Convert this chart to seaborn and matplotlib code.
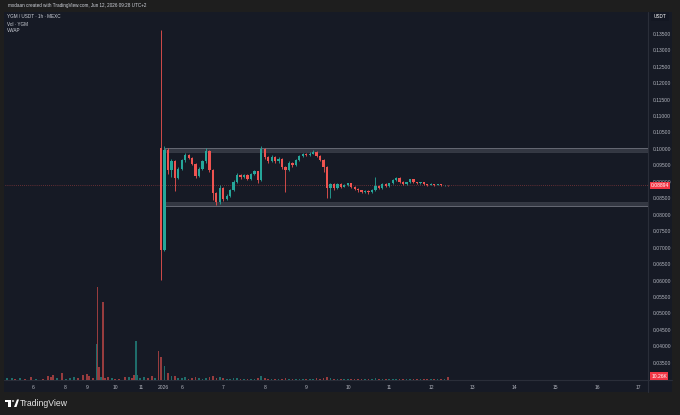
import numpy as np
import matplotlib
matplotlib.use('Agg')
import matplotlib.pyplot as plt
import seaborn as sns
from matplotlib.patches import Rectangle
from matplotlib.lines import Line2D

# dados: velas de 2h (preço em USDT), volume em K
first_open = 0.1002
closes = [0.0693, 0.0998, 0.0935, 0.0962, 0.0912, 0.0940, 0.0965, 0.0982, 0.0972, 0.0955,
          0.0918, 0.0940, 0.0962, 0.0995, 0.0935, 0.0865, 0.0838, 0.0880, 0.0848, 0.0858,
          0.0875, 0.0900, 0.0922, 0.0915, 0.0920, 0.0910, 0.0925, 0.0932, 0.0905, 0.1000,
          0.0975, 0.0962, 0.0975, 0.0962, 0.0970, 0.0945, 0.0935, 0.0958, 0.0950, 0.0965,
          0.0978, 0.0985, 0.0982, 0.0986, 0.0992, 0.0978, 0.0965, 0.0945, 0.0880, 0.0892,
          0.0880, 0.0893, 0.0885, 0.0890, 0.0895, 0.0885, 0.0878, 0.0874, 0.0870, 0.0873,
          0.0868, 0.0875, 0.0888, 0.0880, 0.0893, 0.0888, 0.0895, 0.0905, 0.0912, 0.0900,
          0.0893, 0.0898, 0.0908, 0.0898, 0.0895, 0.0898, 0.0893, 0.0890, 0.0893, 0.0890,
          0.0892, 0.0889, 0.0890, 0.08894]
highs = [0.1362, 0.1008, 0.1003, 0.0968, 0.0966, 0.0945, 0.0970, 0.0988, 0.0985, 0.0975,
         0.0958, 0.0944, 0.0966, 0.1002, 0.0998, 0.0938, 0.0870, 0.0890, 0.0884, 0.0862,
         0.0878, 0.0904, 0.0926, 0.0925, 0.0924, 0.0923, 0.0928, 0.0936, 0.0934, 0.1008,
         0.1003, 0.0978, 0.0980, 0.0978, 0.0974, 0.0972, 0.0948, 0.0962, 0.0960, 0.0968,
         0.0982, 0.0988, 0.0988, 0.0990, 0.0998, 0.0994, 0.0980, 0.0968, 0.0948, 0.0896,
         0.0895, 0.0896, 0.0895, 0.0892, 0.0897, 0.0896, 0.0886, 0.0880, 0.0876, 0.0875,
         0.0874, 0.0877, 0.0915, 0.0890, 0.0895, 0.0895, 0.0897, 0.0908, 0.0915, 0.0914,
         0.0902, 0.0900, 0.0910, 0.0909, 0.0900, 0.0900, 0.0899, 0.0894, 0.0895, 0.0894,
         0.0893, 0.0893, 0.0891, 0.0891]
lows = [0.0602, 0.0690, 0.0925, 0.0915, 0.0872, 0.0908, 0.0936, 0.0960, 0.0968, 0.0950,
        0.0912, 0.0915, 0.0936, 0.0958, 0.0930, 0.0845, 0.0830, 0.0834, 0.0842, 0.0845,
        0.0855, 0.0872, 0.0897, 0.0910, 0.0912, 0.0905, 0.0906, 0.0920, 0.0895, 0.0902,
        0.0970, 0.0958, 0.0960, 0.0958, 0.0958, 0.0940, 0.0870, 0.0932, 0.0946, 0.0947,
        0.0962, 0.0975, 0.0978, 0.0979, 0.0984, 0.0975, 0.0962, 0.0930, 0.0851, 0.0852,
        0.0876, 0.0877, 0.0882, 0.0883, 0.0887, 0.0882, 0.0874, 0.0870, 0.0866, 0.0867,
        0.0864, 0.0866, 0.0872, 0.0877, 0.0878, 0.0885, 0.0885, 0.0893, 0.0902, 0.0897,
        0.0890, 0.0891, 0.0896, 0.0896, 0.0893, 0.0893, 0.0891, 0.0888, 0.0889, 0.0888,
        0.0889, 0.0887, 0.0888, 0.0888]
volumes = [78, 48, 24, 12, 14, 8, 6, 9, 5, 6, 10, 7, 5, 8, 9, 12, 8, 10, 6, 5,
           4, 6, 7, 4, 3, 4, 5, 4, 6, 12, 7, 5, 4, 4, 3, 5, 6, 4, 3, 4,
           5, 4, 3, 4, 5, 6, 5, 6, 10, 7, 5, 4, 3, 3, 4, 3, 4, 3, 4, 3,
           3, 4, 6, 4, 3, 3, 4, 5, 4, 4, 3, 3, 4, 3, 3, 3, 3, 3, 3, 3,
           3, 3, 3, 10.26]
candle_start_day = 5.494
candle_hours = 2

# volume antes do início das velas
pre_vol_day = [1.783, 1.904, 1.976, 2.096, 2.217, 2.361, 2.482, 2.651, 2.771, 2.843,
               2.892, 2.988, 3.108, 3.205, 3.301, 3.398, 3.494, 3.614, 3.711, 3.759,
               3.855, 3.935, 3.969, 4.000, 4.048, 4.096, 4.145, 4.217, 4.313, 4.386,
               4.482, 4.627, 4.723, 4.795, 4.843, 4.892, 4.928, 4.988, 5.084, 5.181,
               5.277, 5.349, 5.439]
pre_vol = [7, 7, 3, 7, 3, 10, 3, 3, 14, 10, 17, 7, 24, 3, 7, 10, 7, 17, 20, 14,
           7, 122, 316, 44, 10, 265, 7, 10, 7, 3, 3, 10, 10, 7, 17, 133, 17, 7, 10, 7,
           14, 7, 99]
pre_vol_up = [1, 1, 0, 1, 0, 0, 1, 0, 0, 0, 0, 1, 0, 1, 1, 1, 0, 0, 0, 0,
              0, 1, 0, 0, 1, 0, 0, 0, 1, 0, 0, 0, 1, 0, 0, 1, 1, 1, 1, 0,
              0, 1, 0]

y_ticks = [0.035, 0.040, 0.045, 0.050, 0.055, 0.060, 0.065, 0.070, 0.075, 0.080,
           0.085, 0.090, 0.095, 0.100, 0.105, 0.110, 0.115, 0.120, 0.125, 0.130, 0.135]
x_tick_pos = [2.410, 3.181, 3.711, 4.386, 5.012, 5.542, 6, 7, 8, 9, 10, 11, 12, 13, 14, 15, 16, 17]
x_tick_labels = ['6', '8', '9', '10', '11', '2026', '6', '7', '8', '9', '10', '11',
                 '12', '13', '14', '15', '16', '17']

range_start_day = 5.59
range_top = (0.0990, 0.1002)
range_bottom = (0.0827, 0.0840)
last_price = 0.08894
last_volume = '10.26K'

UP = '#26a69a'
DOWN = '#ef5350'
BG = '#161a25'
FRAME = '#1e1e1e'
TXT = '#b2b5be'

sns.set_theme(style='dark', rc={'axes.facecolor': BG, 'figure.facecolor': FRAME})
plt.rcParams['font.family'] = ['Liberation Sans', 'DejaVu Sans']

W, H = 680, 415


def box(x0, y0, x1, y1):
    return [x0 / W, 1 - y1 / H, (x1 - x0) / W, (y1 - y0) / H]


fig = plt.figure(figsize=(6.8, 4.15), dpi=100)
fig.patch.set_facecolor(FRAME)
fig.add_artist(Rectangle((4 / W, 1 - 392 / H), 668 / W, 380 / H, transform=fig.transFigure,
                         facecolor=BG, edgecolor='none', zorder=0))

ax = fig.add_axes(box(5, 12, 648, 380))
ax.set_facecolor('none')
ax.set_zorder(3)
vax = fig.add_axes(box(5, 12, 648, 380), sharex=ax)
vax.set_facecolor('none')
vax.set_zorder(2)

# volume
vol_x = np.array(pre_vol_day)
vax.bar(vol_x, pre_vol, width=0.03,
        color=[UP if u else DOWN for u in pre_vol_up], alpha=0.6, linewidth=0)
n = len(closes)
cx = candle_start_day + np.arange(n) * candle_hours / 24
opens = np.array([first_open] + closes[:-1])
cl = np.array(closes)
is_up = cl >= opens
cols = [UP if u else DOWN for u in is_up]
vax.bar(cx, volumes, width=0.04, color=cols, alpha=0.6, linewidth=0)
vax.set_ylim(0, 1250)
vax.axis('off')

# intervalo (retângulo)
x_right = 17.3
ax.add_patch(Rectangle((range_start_day, range_bottom[0]), x_right - range_start_day,
                       range_top[1] - range_bottom[0], facecolor='none',
                       edgecolor='#5d606b', linewidth=0.7, zorder=1))
for lo, hi in (range_top, range_bottom):
    ax.add_patch(Rectangle((range_start_day, lo), x_right - range_start_day, hi - lo,
                           facecolor='#787b86', alpha=0.3, edgecolor='#787b86',
                           linewidth=0.5, zorder=1))

# velas
ax.vlines(cx, lows, highs, colors=cols, linewidth=0.6, zorder=3)
ax.bar(cx, np.abs(cl - opens), bottom=np.minimum(cl, opens), width=0.055,
       color=cols, linewidth=0, zorder=4)
ax.axhline(last_price, color=DOWN, linestyle=(0, (1, 2)), linewidth=0.5, alpha=0.7, zorder=2)

ax.set_xlim(1.735, 17.229)
ax.set_ylim(0.02977, 0.1416)
ax.grid(False)
for s in ax.spines.values():
    s.set_visible(False)
ax.yaxis.tick_right()
ax.set_yticks(y_ticks)
ax.set_yticklabels(['%.5f' % v for v in y_ticks], fontsize=3.6, color=TXT)
ax.tick_params(axis='y', length=0, pad=3.5)
ax.set_xticks(x_tick_pos)
ax.set_xticklabels(x_tick_labels, fontsize=3.6, color=TXT)
ax.tick_params(axis='x', length=0, pad=3.5)

# separadores dos eixos
fig.add_artist(Line2D([648 / W, 648 / W], [1 - 12 / H, 1 - 392 / H], color='#2a2e39', linewidth=0.8))
fig.add_artist(Line2D([4 / W, 672 / W], [1 - 380 / H, 1 - 380 / H], color='#2a2e39', linewidth=0.8))

# etiquetas no eixo de preço
py = 1 - (12 + (0.1416 - last_price) / (0.1416 - 0.02977) * 368) / H
fig.text(660 / W, py, '%.5f' % last_price, fontsize=3.6, color='white', ha='center', va='center',
         zorder=10, bbox=dict(boxstyle='square,pad=0.25', facecolor='#f23645', edgecolor='none'))
fig.text(659 / W, 1 - 376 / H, last_volume, fontsize=3.6, color='white', ha='center', va='center',
         bbox=dict(boxstyle='square,pad=0.25', facecolor='#f23645', edgecolor='none'))
fig.text(660 / W, 1 - 16.5 / H, 'USDT', fontsize=3.4, color='white', ha='center', va='center',
         bbox=dict(boxstyle='square,pad=0.5', facecolor='#131722', edgecolor='none'))

# cabeçalho e legenda
fig.text(8 / W, 1 - 6 / H, 'mxdaan created with TradingView.com, Jun 12, 2026 09:28 UTC+2',
         fontsize=3.3, color='#d1d4dc', va='center')
fig.text(7 / W, 1 - 17 / H, 'YGM / USDT · 1h · MEXC', fontsize=3.3, color='#d1d4dc', va='center')
fig.text(7 / W, 1 - 24 / H, 'Vol · YGM', fontsize=3.3, color='#d1d4dc', va='center')
fig.text(7 / W, 1 - 31 / H, 'VWAP', fontsize=3.3, color='#d1d4dc', va='center')

# logotipo TradingView
fig.add_artist(Rectangle((5 / W, 1 - 402 / H), 6 / W, 2.5 / H, transform=fig.transFigure,
                         facecolor='white', edgecolor='none'))
fig.add_artist(Rectangle((8 / W, 1 - 407 / H), 2.5 / W, 5 / H, transform=fig.transFigure,
                         facecolor='white', edgecolor='none'))
fig.add_artist(plt.Circle((13 / W, 1 - 401 / H), 1.2 / W, transform=fig.transFigure,
                          facecolor='white', edgecolor='none'))
fig.add_artist(plt.Polygon([[14 / W, 1 - 407 / H], [17 / W, 1 - 399.5 / H], [19 / W, 1 - 399.5 / H],
                            [16.5 / W, 1 - 407 / H]], closed=True, transform=fig.transFigure,
                           facecolor='white', edgecolor='none'))
fig.text(20 / W, 1 - 403 / H, 'TradingView', fontsize=6.2, color='#e6e6e6', va='center')

fig.savefig('out.png', dpi=100, facecolor=FRAME)
